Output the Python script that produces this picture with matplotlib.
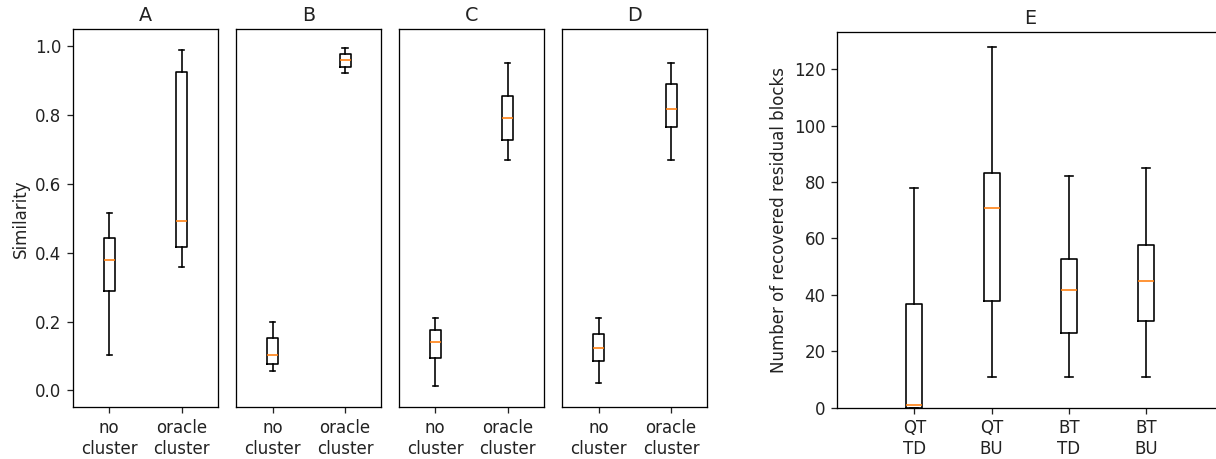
import numpy as np
import matplotlib
matplotlib.use("Agg")
import matplotlib.pyplot as plt

# similarity panels A-D: [no cluster, oracle cluster]
panel_names = ["A", "B", "C", "D"]
sim_labels = ["no\ncluster", "oracle\ncluster"]
sim_whislo = [[0.102, 0.358], [0.057, 0.922], [0.013, 0.670], [0.022, 0.670]]
sim_q1 = [[0.290, 0.417], [0.076, 0.939], [0.095, 0.726], [0.085, 0.766]]
sim_med = [[0.379, 0.493], [0.103, 0.960], [0.141, 0.790], [0.124, 0.816]]
sim_q3 = [[0.443, 0.925], [0.151, 0.978], [0.176, 0.854], [0.164, 0.889]]
sim_whishi = [[0.514, 0.989], [0.198, 0.993], [0.209, 0.951], [0.209, 0.951]]

# panel E: recovered residual blocks
blk_labels = ["QT\nTD", "QT\nBU", "BT\nTD", "BT\nBU"]
blk_whislo = [0, 11, 11, 11]
blk_q1 = [0, 37.8, 26.4, 30.9]
blk_med = [1, 70.8, 41.6, 45.0]
blk_q3 = [36.9, 83.3, 52.8, 57.8]
blk_whishi = [78, 128, 82, 85]

# the reference looks like a slightly enlarged image, scale everything up
s = 1.17
plt.rcParams.update({
    "font.size": 12,
    "axes.linewidth": 0.8 * s,
    "xtick.major.width": 0.8 * s,
    "ytick.major.width": 0.8 * s,
    "xtick.major.size": 3.5 * s,
    "ytick.major.size": 3.5 * s,
    "xtick.major.pad": 4.2,
    "ytick.major.pad": 4.2,
    "text.color": "#222222",
    "xtick.color": "#222222",
    "ytick.color": "#222222",
    "axes.labelcolor": "#222222",
})
box_kw = dict(boxprops=dict(linewidth=1.0 * s),
              whiskerprops=dict(linewidth=1.0 * s),
              capprops=dict(linewidth=1.0 * s),
              medianprops=dict(linewidth=1.0 * s, color="C1"))


def make_stats(lo, q1, med, q3, hi, labels):
    out = []
    for i in range(len(labels)):
        out.append(dict(whislo=lo[i], q1=q1[i], med=med[i], q3=q3[i],
                        whishi=hi[i], fliers=[], label=labels[i]))
    return out


fig = plt.figure(figsize=(12.16, 4.59), dpi=100)

lefts = [0.0600, 0.1943, 0.3281, 0.4624]
axes = []
for k in range(4):
    ax = fig.add_axes([lefts[k], 0.1126, 0.1193, 0.8235])
    stats = make_stats(sim_whislo[k], sim_q1[k], sim_med[k], sim_q3[k],
                       sim_whishi[k], sim_labels)
    ax.bxp(stats, showfliers=False, widths=0.15, **box_kw)
    ax.set_xlim(0.5, 2.5)
    ax.set_ylim(-0.049, 1.0485)
    ax.set_title(panel_names[k], fontsize=13.8)
    if k == 0:
        ax.set_ylabel("Similarity")
    else:
        ax.set_yticks([])
    axes.append(ax)

axE = fig.add_axes([0.6883, 0.1118, 0.318, 0.8185])
statsE = make_stats(blk_whislo, blk_q1, blk_med, blk_q3, blk_whishi, blk_labels)
axE.bxp(statsE, showfliers=False, widths=0.21, **box_kw)
axE.set_xlim(0, 5)
axE.set_ylim(0, 133.2)
axE.set_title("E", fontsize=13.8)
axE.set_ylabel("Number of recovered residual blocks")

fig.savefig("out.png", dpi=100)
